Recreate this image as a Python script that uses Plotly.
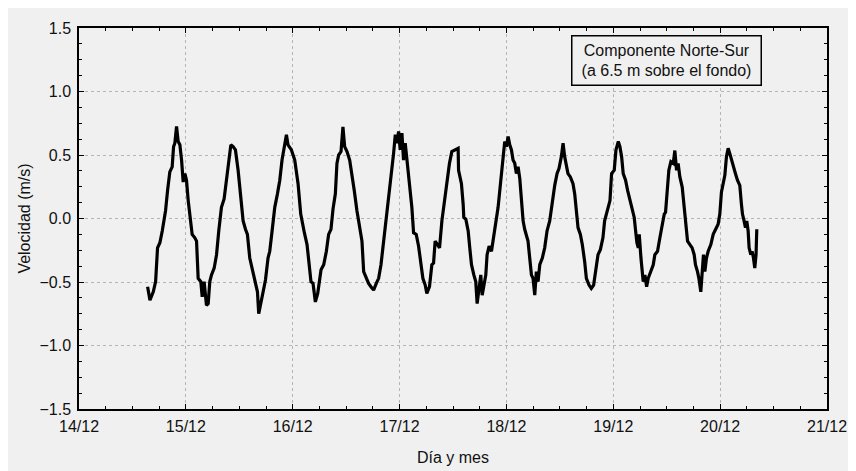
import plotly.graph_objects as go

# ---- data ----
dias = [
    14.642, 14.664, 14.695, 14.717, 14.735, 14.757, 14.779, 14.798, 14.810, 14.829,
    14.850, 14.872, 14.885, 14.897, 14.913, 14.928, 14.944, 14.960, 14.975, 14.991,
    15.006, 15.022, 15.047, 15.059, 15.084, 15.100, 15.115, 15.140, 15.153, 15.171,
    15.193, 15.209, 15.224, 15.240, 15.265, 15.287, 15.308, 15.333, 15.358, 15.380,
    15.402, 15.421, 15.442, 15.464, 15.489, 15.514, 15.536, 15.558, 15.576, 15.598,
    15.620, 15.645, 15.670, 15.682, 15.701, 15.723, 15.745, 15.769, 15.785, 15.807,
    15.832, 15.857, 15.879, 15.900, 15.925, 15.941, 15.956, 15.988, 16.019, 16.050,
    16.075,
    16.097, 16.109, 16.134, 16.159, 16.171, 16.190, 16.212, 16.234, 16.252, 16.265,
    16.290, 16.315, 16.336, 16.358, 16.377, 16.399, 16.414, 16.430, 16.452, 16.470,
    16.486, 16.508, 16.533, 16.555, 16.576, 16.601, 16.626, 16.648, 16.664, 16.688,
    16.710, 16.732, 16.757, 16.782, 16.804, 16.826, 16.844, 16.866, 16.882, 16.907,
    16.928, 16.944, 16.960, 16.975, 16.991, 17.006, 17.022, 17.037, 17.053, 17.069,
    17.084, 17.100, 17.115, 17.131, 17.156, 17.178, 17.199, 17.218, 17.240, 17.255,
    17.280, 17.302, 17.318, 17.333, 17.355, 17.374, 17.396, 17.417, 17.442, 17.467,
    17.489, 17.520,
    17.548, 17.552, 17.579, 17.595, 17.601, 17.620, 17.642, 17.657, 17.673, 17.695,
    17.713, 17.726, 17.745, 17.760, 17.773, 17.788, 17.807, 17.819, 17.838, 17.860,
    17.875, 17.900, 17.922, 17.938, 17.953, 17.969, 17.984, 18.000, 18.016, 18.031,
    18.047, 18.062, 18.078, 18.093, 18.109, 18.125, 18.140, 18.156, 18.171, 18.187,
    18.202, 18.218, 18.234, 18.249, 18.265, 18.280, 18.296, 18.312, 18.336, 18.358,
    18.380, 18.405, 18.430, 18.452, 18.474, 18.492, 18.514, 18.530, 18.545, 18.561,
    18.576, 18.598, 18.623, 18.639, 18.654, 18.670, 18.692, 18.710, 18.732, 18.748,
    18.773, 18.794, 18.816, 18.835, 18.857, 18.879, 18.903, 18.919, 18.941,
    18.969, 18.984, 19.009, 19.025, 19.047, 19.062, 19.078, 19.093, 19.115, 19.134,
    19.156, 19.178, 19.196, 19.209, 19.221, 19.234, 19.243, 19.259, 19.271, 19.280,
    19.296, 19.312, 19.327, 19.352, 19.374, 19.389, 19.414, 19.436, 19.458, 19.477,
    19.489, 19.508, 19.520, 19.539, 19.561, 19.576, 19.592, 19.607, 19.623, 19.645,
    19.664, 19.676, 19.695, 19.717, 19.738, 19.757, 19.769, 19.788, 19.801, 19.819,
    19.832, 19.844, 19.857, 19.872, 19.888, 19.913, 19.935, 19.956, 19.981, 19.997,
    20.012, 20.028, 20.044, 20.059, 20.075, 20.090, 20.106, 20.121, 20.143, 20.162,
    20.184, 20.199, 20.209, 20.224, 20.237, 20.249, 20.262, 20.271, 20.287, 20.299,
    20.312, 20.324, 20.336, 20.343,
]

velocidad = [
    -0.537, -0.644, -0.577, -0.497, -0.231, -0.191, -0.098, -0.019, 0.061, 0.221,
    0.367, 0.407, 0.566, 0.593, 0.726, 0.606, 0.580, 0.460, 0.287, 0.354,
    0.301, 0.141, -0.019, -0.125, -0.152, -0.178, -0.471, -0.497, -0.617, -0.497,
    -0.684, -0.670, -0.497, -0.444, -0.391, -0.285, -0.098, 0.088, 0.154, 0.301,
    0.434, 0.580, 0.566, 0.540, 0.380, 0.194, -0.019, -0.085, -0.125, -0.311,
    -0.391, -0.471, -0.577, -0.750, -0.670, -0.551, -0.484, -0.311, -0.258, -0.098,
    0.088, 0.194, 0.301, 0.460, 0.606, 0.660, 0.580, 0.540, 0.460, 0.274,
    0.035,
    -0.085, -0.112, -0.205, -0.391, -0.497, -0.511, -0.657, -0.590, -0.497, -0.404,
    -0.364, -0.258, -0.125, -0.085, 0.074, 0.194, 0.434, 0.500, 0.527, 0.721,
    0.566, 0.527, 0.460, 0.354, 0.221, 0.061, -0.072, -0.178, -0.418, -0.471,
    -0.511, -0.537, -0.564, -0.511, -0.471, -0.364, -0.231, -0.112, 0.035, 0.194,
    0.354, 0.513, 0.660, 0.593, 0.686, 0.540, 0.673, 0.460, 0.593, 0.460,
    0.380, 0.247, 0.088, -0.112, -0.125, -0.218, -0.364, -0.471, -0.524, -0.590,
    -0.537, -0.364, -0.351, -0.178, -0.205, -0.231, -0.019, 0.114, 0.301, 0.434,
    0.527, 0.540,
    0.553, 0.380, 0.274, 0.114, 0.008, -0.005, -0.098, -0.231, -0.364, -0.444,
    -0.497, -0.670, -0.524, -0.444, -0.604, -0.524, -0.444, -0.285, -0.218, -0.258,
    -0.178, -0.045, 0.088, 0.221, 0.354, 0.513, 0.606, 0.566, 0.646, 0.580,
    0.540, 0.460, 0.434, 0.354, 0.407, 0.314, 0.141, -0.019, -0.085, -0.125,
    -0.178, -0.311, -0.444, -0.471, -0.604, -0.418, -0.497, -0.364, -0.311, -0.231,
    -0.098, -0.019, 0.141, 0.261, 0.354, 0.394, 0.487, 0.593, 0.487, 0.420,
    0.354, 0.327, 0.274, 0.194, 0.035, -0.072, -0.125, -0.205, -0.338, -0.471,
    -0.524, -0.551, -0.524, -0.418, -0.285, -0.245, -0.152, -0.019, 0.061,
    0.141, 0.354, 0.380, 0.540, 0.606, 0.566, 0.487, 0.354, 0.301, 0.221,
    0.141, 0.061, 0.008, -0.098, -0.191, -0.231, -0.125, -0.311, -0.391, -0.497,
    -0.444, -0.537, -0.471, -0.418, -0.364, -0.285, -0.258, -0.152, -0.045, 0.035,
    0.048, 0.221, 0.380, 0.447, 0.434, 0.535, 0.380, 0.434, 0.327, 0.247,
    0.088, 0.008, -0.178, -0.205, -0.231, -0.285, -0.364, -0.418, -0.471, -0.577,
    -0.444, -0.285, -0.418, -0.311, -0.258, -0.205, -0.125, -0.085, -0.045, 0.035,
    0.207, 0.274, 0.340, 0.487, 0.553, 0.513, 0.460, 0.407, 0.354, 0.301,
    0.261, 0.114, 0.035, -0.019, -0.072, -0.019, -0.098, -0.231, -0.285, -0.258,
    -0.311, -0.391, -0.285, -0.085,
]

x_tick_vals = [14, 15, 16, 17, 18, 19, 20, 21]
x_tick_labels = ["14/12", "15/12", "16/12", "17/12", "18/12", "19/12", "20/12", "21/12"]
y_tick_vals = [-1.5, -1.0, -0.5, 0.0, 0.5, 1.0, 1.5]

assert len(dias) == len(velocidad)

FONT = "Arial, 'Liberation Sans', sans-serif"
BG = "#f0f0f0"

fig = go.Figure()
fig.add_trace(go.Scatter(
    x=dias, y=velocidad, mode="lines",
    line=dict(color="black", width=3.2),
    showlegend=False, hoverinfo="skip",
))

axis_common = dict(
    showline=True, linecolor="black", linewidth=1.5, mirror="ticks",
    ticks="inside", ticklen=5, tickwidth=1, tickcolor="black",
    showgrid=True, gridcolor="#b5b5b5", gridwidth=1, griddash="dot",
    zeroline=False,
    tickfont=dict(family=FONT, size=16, color="#111111"),
)

fig.update_xaxes(
    **axis_common,
    range=[14, 21], tickmode="array", tickvals=x_tick_vals, ticktext=x_tick_labels,
    minor=dict(dtick=0.25, tick0=14, ticks="inside", ticklen=3, tickcolor="black", showgrid=False),
    title=dict(text="Día y mes", font=dict(family=FONT, size=16, color="#111111"), standoff=18),
    ticklabelstandoff=2,
)
fig.update_yaxes(
    **axis_common,
    range=[-1.5, 1.5], tickmode="array", tickvals=y_tick_vals, tickformat=".1f",
    minor=dict(dtick=0.125, tick0=-1.5, ticks="inside", ticklen=3, tickcolor="black", showgrid=False),
    title=dict(text="Velocidad (m/s)", font=dict(family=FONT, size=16, color="#111111"), standoff=5),
    ticklabelstandoff=3,
)

# light grey canvas
fig.add_shape(type="rect", xref="paper", yref="paper",
              x0=-0.2, x1=1.2, y0=-0.3, y1=1.2,
              fillcolor=BG, line=dict(width=0), layer="below")

fig.add_annotation(
    xref="paper", yref="paper", x=0.7848, y=0.9135,
    xanchor="center", yanchor="middle", showarrow=False,
    text="Componente Norte-Sur<br>(a 6.5 m sobre el fondo)",
    font=dict(family=FONT, size=16, color="#111111"),
    bgcolor=BG, bordercolor="black", borderwidth=1.5, borderpad=5,
    width=178,
)

# the page adds an 8px body margin, so the figure is 8px smaller than the window
fig.update_layout(
    width=848, height=463,
    margin=dict(l=71, r=29, t=20, b=62, autoexpand=False),
    paper_bgcolor=BG, plot_bgcolor=BG,
    font=dict(family=FONT, size=16, color="#111111"),
)

fig.write_html("out.html")
